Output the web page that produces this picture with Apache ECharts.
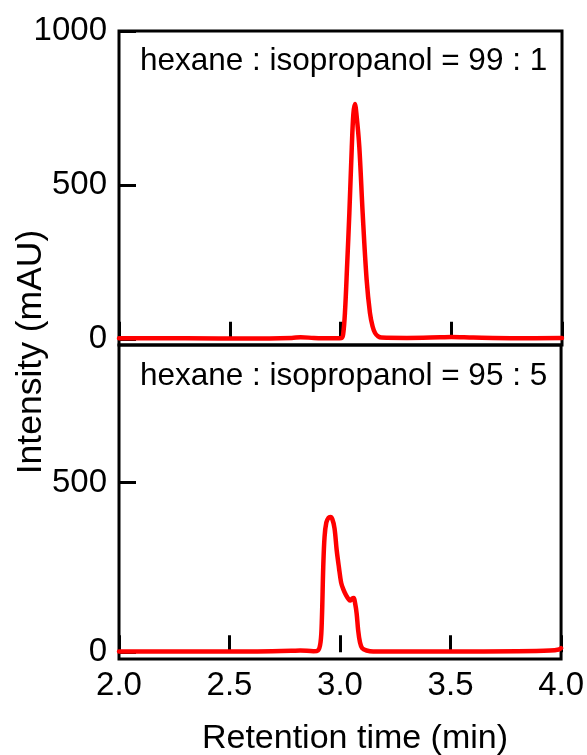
<!DOCTYPE html>
<html>
<head>
<meta charset="utf-8">
<script src="https://cdn.jsdelivr.net/npm/echarts@6/dist/echarts.min.js"></script>
<style>
html,body{margin:0;padding:0;background:#fff;}
#c{width:587px;height:755px;}
</style>
</head>
<body>
<div id="c"></div>
<script>
// Retention time (min) and intensity (mAU)
var timeTop = [2.00, 2.30, 2.60, 2.78, 2.82, 2.88, 2.95, 3.005, 3.012, 3.020, 3.030, 3.040, 3.051, 3.058, 3.065, 3.072, 3.085, 3.100, 3.118, 3.133, 3.145, 3.156, 3.170, 3.185, 3.30, 3.45, 3.50, 3.60, 3.80, 4.00];
var valueTop = [2, 2, 1, 3, 5, 3, 2, 3, 15, 84, 240, 409, 623, 730, 763, 730, 623, 409, 192, 84, 40, 19, 8, 4, 3, 5, 6, 4, 2, 3];

var timeBottom = [2.00, 2.30, 2.60, 2.78, 2.82, 2.88, 2.900, 2.912, 2.918, 2.924, 2.930, 2.938, 2.948, 2.956, 2.965, 2.975, 2.985, 2.995, 3.005, 3.015, 3.027, 3.040, 3.047, 3.055, 3.062, 3.068, 3.075, 3.082, 3.090, 3.100, 3.120, 3.150, 3.50, 3.80, 3.95, 3.99, 4.00];
var valueBottom = [2, 2, 2, 4, 5, 3, 5, 30, 100, 250, 340, 382, 396, 398, 392, 365, 300, 250, 205, 185, 168, 155, 152, 158, 160, 145, 115, 65, 30, 12, 5, 2, 2, 3, 5, 8, 12];

var xTicks = [2.0, 2.5, 3.0, 3.5, 4.0];
var yTicksTop = [0, 500, 1000];
var yTicksBottom = [0, 500];
var labelTop = 'hexane : isopropanol = 99 : 1';
var labelBottom = 'hexane : isopropanol = 95 : 5';

function pairs(t, v) { return t.map(function (x, i) { return [x, v[i]]; }); }

var FONT = '"Liberation Sans", Arial, Helvetica, sans-serif';
var chart = echarts.init(document.getElementById('c'), null, {renderer: 'canvas'});

function xAxisCfg(idx, showLabels) {
  return {
    type: 'value', gridIndex: idx, min: 2, max: 4, interval: 0.5,
    axisLine: {show: false},
    axisTick: {show: true, inside: true, length: 17, lineStyle: {color: '#000', width: 3}},
    splitLine: {show: false},
    axisLabel: {show: showLabels, margin: 10, color: '#000', fontSize: 33, fontFamily: FONT,
      formatter: function (v) { return v.toFixed(1); }}
  };
}
function yAxisCfg(idx, min, max, ticks) {
  return {
    type: 'value', gridIndex: idx, min: min, max: max,
    axisLine: {show: false},
    axisTick: {show: true, inside: true, length: 17, customValues: ticks, lineStyle: {color: '#000', width: 3}},
    splitLine: {show: false},
    axisLabel: {show: true, margin: 12, color: '#000', fontSize: 33, fontFamily: FONT, customValues: ticks,
      formatter: function (v) { return String(Math.round(v)); }}
  };
}

chart.setOption({
  animation: false,
  backgroundColor: '#fff',
  grid: [
    {left: 119, right: 25, top: 31, height: 314, show: true, borderColor: '#000', borderWidth: 3, backgroundColor: 'transparent'},
    {left: 119, right: 25, top: 345, height: 314, show: true, borderColor: '#000', borderWidth: 3, backgroundColor: 'transparent'}
  ],
  xAxis: [xAxisCfg(0, false), xAxisCfg(1, true)],
  yAxis: [yAxisCfg(0, -20, 1000, yTicksTop), yAxisCfg(1, -20, 905, yTicksBottom)],
  series: [
    {type: 'line', xAxisIndex: 0, yAxisIndex: 0, data: pairs(timeTop, valueTop), showSymbol: false,
      smooth: 0.35, lineStyle: {color: '#ff0000', width: 4.5, join: 'round', cap: 'round'}, z: 1},
    {type: 'line', xAxisIndex: 1, yAxisIndex: 1, data: pairs(timeBottom, valueBottom), showSymbol: false,
      smooth: 0.35, lineStyle: {color: '#ff0000', width: 4.5, join: 'round', cap: 'round'}, z: 1}
  ],
  graphic: [
    {type: 'text', left: 140, top: 45, style: {text: labelTop, font: '31.5px ' + FONT, fill: '#000'}},
    {type: 'text', left: 140, top: 360, style: {text: labelBottom, font: '31.5px ' + FONT, fill: '#000'}},
    {type: 'text', x: 355, y: 739, style: {text: 'Retention time (min)', font: '34px ' + FONT, fill: '#000', align: 'center', verticalAlign: 'middle'}},
    {type: 'text', x: 31, y: 352, rotation: Math.PI / 2, style: {text: 'Intensity (mAU)', font: '35.5px ' + FONT, fill: '#000', align: 'center', verticalAlign: 'middle'}}
  ]
});
</script>
</body>
</html>
